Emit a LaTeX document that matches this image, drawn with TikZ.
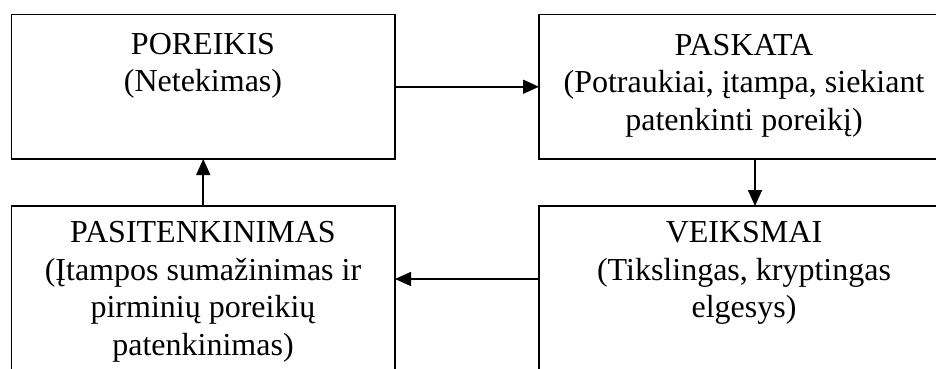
\documentclass[tikz,border=0pt]{standalone}
\usepackage{fontspec}
\setmainfont{Liberation Serif}
\usetikzlibrary{arrows.meta,calc}
\begin{document}
\begin{tikzpicture}[x=1pt,y=-1pt,
  box/.style={draw,line width=1.7pt,rectangle,inner sep=0pt,outer sep=0pt},
  lbl/.style={align=center,inner sep=0pt,anchor=north,font=\fontsize{32}{37.5}\selectfont},
  arr/.style={line width=1.6pt,-{Triangle[length=16pt,width=14pt]}}]
\useasboundingbox (0,0) rectangle (936,369);
\clip (0,0) rectangle (936,369);
% boxes
\node[box,minimum width=383.5pt,minimum height=144.5pt] (poreikis) at (203.25,86.75) {};
\node[box,minimum width=432pt,minimum height=144.5pt] (paskata) at (755,86.75) {};
\node[box,minimum width=383.5pt,minimum height=230pt] (pasit) at (203.25,321) {};
\node[box,minimum width=432pt,minimum height=230pt] (veiksmai) at (755,321) {};
% texts
\node[lbl] (t1) at (203,32.8) {POREIKIS\\(Netekimas)};
\node[lbl] (t2) at (744,33.8) {PASKATA\\(Potraukiai, įtampa, siekiant\\patenkinti poreikį)};
\node[lbl] (t3) at (203,221.3) {PASITENKINIMAS\\(Įtampos sumažinimas ir\\pirminių poreikių\\patenkinimas)};
\node[lbl] (t4) at (744,221.3) {VEIKSMAI\\(Tikslingas, kryptingas\\elgesys)};
% arrows
\draw[arr] (poreikis.east) -- (paskata.west);
\draw[arr] (paskata.south) -- (veiksmai.north);
\draw[arr] ($(veiksmai.north west)+(0,73)$) -- ($(pasit.north east)+(0,73)$);
\draw[arr] (pasit.north) -- (poreikis.south);
\end{tikzpicture}
\end{document}
